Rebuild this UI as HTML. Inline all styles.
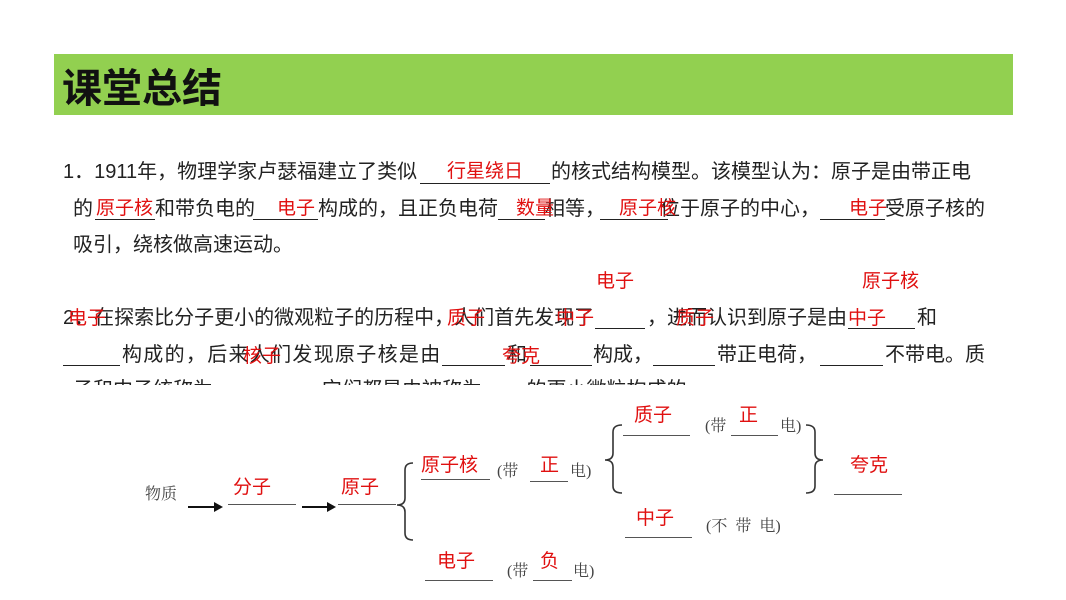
<!DOCTYPE html>
<html><head><meta charset="utf-8"><style>
body{margin:0;width:1066px;height:600px;background:#fff;position:relative;overflow:hidden;font-family:"Liberation Sans","Noto Sans CJK SC",sans-serif}
.t{position:absolute;font-size:20px;line-height:20px;color:#222;white-space:nowrap}
.r{position:absolute;font-size:19px;line-height:20px;color:#e01010;white-space:nowrap}
.u{position:absolute;height:0;border-top:1.3px solid #222}
.g{position:absolute;font-size:16px;line-height:18px;color:#444;white-space:nowrap;font-family:"Liberation Serif","Noto Serif CJK SC",serif}
.du{position:absolute;height:0;border-top:1.3px solid #555}
</style></head><body>
<div style="position:absolute;left:54px;top:54px;width:959px;height:61px;background:#92d050"></div>
<div style="position:absolute;left:62px;top:63px;font-size:40px;line-height:44px;font-weight:bold;color:#111;font-family:'Noto Sans CJK SC',sans-serif">课堂总结</div>

<!-- line 1 -->
<div class="t" style="left:63px;top:162px">1．1911年，物理学家卢瑟福建立了类似</div>
<div class="u" style="left:420px;width:130px;top:183px"></div>
<div class="r" style="left:447px;top:162px">行星绕日</div>
<div class="t" style="left:551px;top:162px">的核式结构模型。该模型认为：原子是由带正电</div>
<!-- line 2 -->
<div class="t" style="left:73px;top:199px">的</div>
<div class="u" style="left:95px;width:60px;top:219px"></div>
<div class="t" style="left:155px;top:199px">和带负电的</div>
<div class="u" style="left:253px;width:65px;top:219px"></div>
<div class="t" style="left:318px;top:199px">构成的，且正负电荷</div>
<div class="u" style="left:498px;width:47px;top:219px"></div>
<div class="t" style="left:545px;top:199px">相等，</div>
<div class="u" style="left:600px;width:68px;top:219px"></div>
<div class="t" style="left:660px;top:199px">位于原子的中心，</div>
<div class="u" style="left:820px;width:65px;top:219px"></div>
<div class="t" style="left:885px;top:199px">受原子核的</div>
<div class="r" style="left:96px;top:199px">原子核</div>
<div class="r" style="left:277px;top:199px">电子</div>
<div class="r" style="left:516px;top:199px">数量</div>
<div class="r" style="left:619px;top:199px">原子核</div>
<div class="r" style="left:849px;top:199px">电子</div>
<!-- line 3 -->
<div class="t" style="left:73px;top:235px">吸引，绕核做高速运动。</div>

<div class="r" style="left:596px;top:272px">电子</div>
<div class="r" style="left:862px;top:272px">原子核</div>
<!-- line 4 -->
<div class="t" style="left:63px;top:308px">2．在探索比分子更小的微观粒子的历程中，人们首先发现了</div>
<div class="u" style="left:595px;width:50px;top:328px"></div>
<div class="t" style="left:647px;top:308px">，进而认识到原子是由</div>
<div class="u" style="left:848px;width:67px;top:328px"></div>
<div class="t" style="left:917px;top:308px">和</div>
<div class="r" style="left:68px;top:309px">电子</div>
<div class="r" style="left:447px;top:309px">质子</div>
<div class="r" style="left:556px;top:309px">中子</div>
<div class="r" style="left:676px;top:309px">质子</div>
<div class="r" style="left:848px;top:309px">中子</div>
<!-- line 5 -->
<div class="u" style="left:63px;width:57px;top:365px"></div>
<div class="t" style="left:122px;top:345px;letter-spacing:1.3px">构成的，后来人们发现原子核是由</div>
<div class="u" style="left:442px;width:63px;top:365px"></div>
<div class="t" style="left:507px;top:345px">和</div>
<div class="u" style="left:530px;width:62px;top:365px"></div>
<div class="t" style="left:593px;top:345px">构成，</div>
<div class="u" style="left:653px;width:62px;top:365px"></div>
<div class="t" style="left:717px;top:345px">带正电荷，</div>
<div class="u" style="left:820px;width:63px;top:365px"></div>
<div class="t" style="left:885px;top:345px">不带电。质</div>
<div class="r" style="left:243px;top:347px">核子</div>
<div class="r" style="left:502px;top:347px">夸克</div>
<!-- line 6 (cut) -->
<div class="t" style="left:73px;top:380px">子和中子统称为________，它们都是由被称为____的更小微粒构成的。</div>
<div style="position:absolute;left:0;top:385px;width:1066px;height:215px;background:#fff"></div>

<!-- diagram -->
<div class="g" style="left:145px;top:486px">物质</div>
<svg style="position:absolute;left:0;top:0" width="1066" height="600">
<g stroke="#111" stroke-width="2" fill="#111">
<line x1="188" y1="507" x2="214" y2="507"/><polygon points="214,502 223,507 214,512" stroke="none"/>
<line x1="302" y1="507" x2="327" y2="507"/><polygon points="327,502 336,507 327,512" stroke="none"/>
</g>
<g stroke="#333" stroke-width="1.6" fill="none">
<path d="M413,463 Q405,463 405,470 L405,498 Q405,505 397,505 Q405,505 405,512 L405,533 Q405,540 413,540"/>
<path d="M622,425 Q613,425 613,432 L613,453 Q613,460 605,460 Q613,460 613,467 L613,486 Q613,493 622,493"/>
<path d="M806,425 Q815,425 815,432 L815,453 Q815,460 823,460 Q815,460 815,467 L815,486 Q815,493 806,493"/>
</g>
</svg>
<div class="du" style="left:228px;width:68px;top:504px"></div>
<div class="r" style="left:233px;top:478px">分子</div>
<div class="du" style="left:338px;width:58px;top:504px"></div>
<div class="r" style="left:341px;top:478px">原子</div>

<div class="r" style="left:421px;top:456px">原子核</div>
<div class="du" style="left:421px;width:69px;top:479px"></div>
<div class="g" style="left:497px;top:463px">(带</div>
<div class="du" style="left:530px;width:38px;top:481px"></div>
<div class="r" style="left:540px;top:456px">正</div>
<div class="g" style="left:570px;top:463px">电)</div>

<div class="r" style="left:634px;top:406px">质子</div>
<div class="du" style="left:623px;width:67px;top:435px"></div>
<div class="g" style="left:705px;top:418px">(带</div>
<div class="du" style="left:731px;width:47px;top:435px"></div>
<div class="r" style="left:739px;top:406px">正</div>
<div class="g" style="left:780px;top:418px">电)</div>

<div class="r" style="left:850px;top:456px">夸克</div>
<div class="du" style="left:834px;width:68px;top:494px"></div>

<div class="r" style="left:636px;top:509px">中子</div>
<div class="du" style="left:625px;width:67px;top:537px"></div>
<div class="g" style="left:706px;top:518px">(不&nbsp;&nbsp;带&nbsp;&nbsp;电)</div>

<div class="r" style="left:437px;top:552px">电子</div>
<div class="du" style="left:425px;width:68px;top:580px"></div>
<div class="g" style="left:507px;top:563px">(带</div>
<div class="du" style="left:533px;width:39px;top:580px"></div>
<div class="r" style="left:540px;top:552px">负</div>
<div class="g" style="left:573px;top:563px">电)</div>
</body></html>
